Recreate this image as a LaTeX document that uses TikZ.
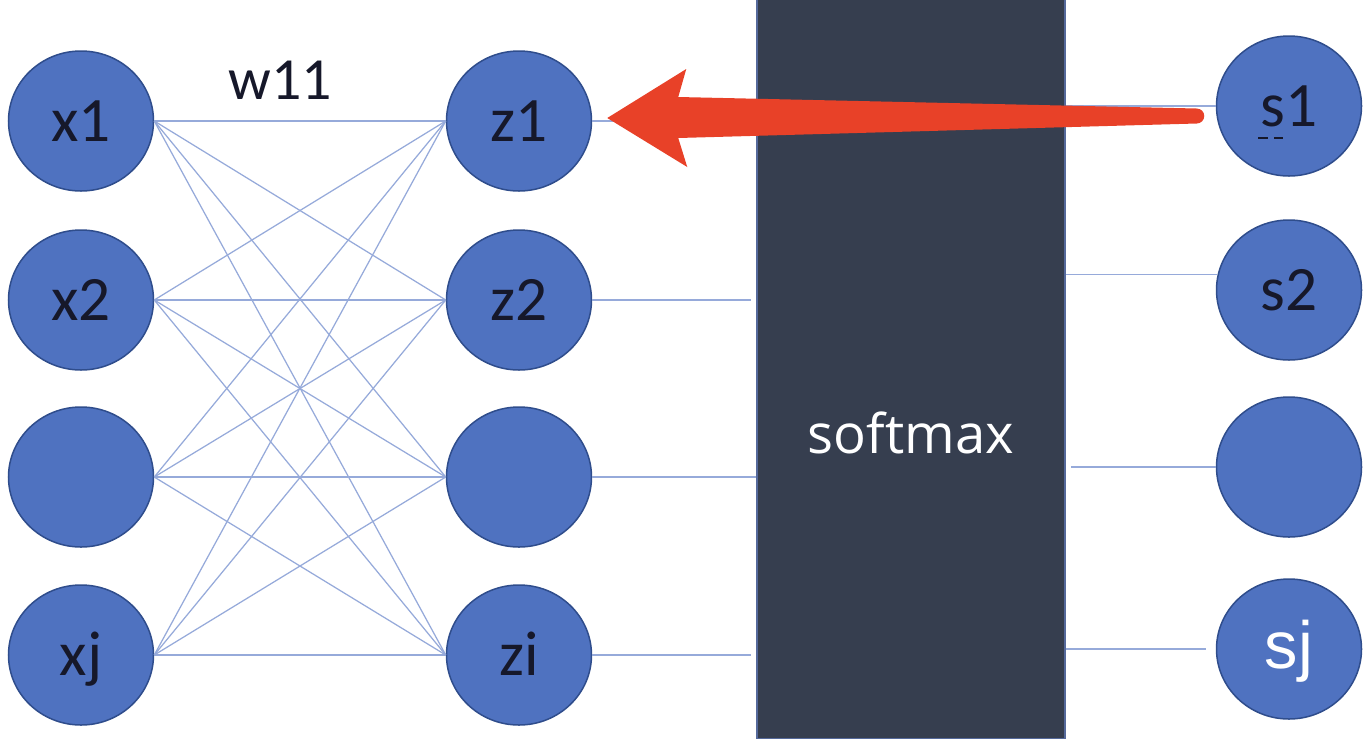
\documentclass[tikz,border=0pt]{standalone}
\usepackage{fontspec}
\setmainfont{Carlito}
\newfontfamily\blockfont{Open Sans}
\newfontfamily\arialfont{Liberation Sans}
\usepackage{tikz}
\usetikzlibrary{shapes.geometric,calc}

\definecolor{nodeblue}{RGB}{79,114,192}
\definecolor{nodeedge}{RGB}{47,77,140}
\definecolor{wireblue}{RGB}{150,170,218}
\definecolor{slate}{RGB}{54,62,79}
\definecolor{slateedge}{RGB}{85,105,155}
\definecolor{arrowred}{RGB}{232,65,40}
\definecolor{labelink}{RGB}{22,24,42}

\begin{document}
\begin{tikzpicture}[x=0.2mm, y=-0.2mm,
	neuron/.style={ellipse, draw=nodeedge, fill=nodeblue, line width=0.3mm, inner sep=0pt,
		minimum width=29mm, minimum height=28mm, text=labelink,
		font=\fontsize{36}{40}\selectfont, text height=8mm, text depth=0pt},
	wire/.style={draw=wireblue, line width=0.25mm}]
	\useasboundingbox (0,0) rectangle (1370,738);

	% softmax block
	\node[rectangle, draw=slateedge, fill=slate, line width=0.3mm, inner sep=0pt,
		minimum width=61.6mm, minimum height=148mm] (sm) at (911,369) {};
	\node[text=white, font=\blockfont\fontsize{31}{36}\selectfont] (smtext) at (911,433) {softmax};

	% input layer
	\node[neuron] (x1) at (81,121) {x1};
	\node[neuron] (x2) at (81,300) {x2};
	\node[neuron] (x3) at (81,477) {};
	\node[neuron] (x4) at (81,655) {xj};

	% hidden layer
	\node[neuron] (z1) at (519,121) {z1};
	\node[neuron] (z2) at (519,300) {z2};
	\node[neuron] (z3) at (519,477) {};
	\node[neuron] (z4) at (519,655) {zi};

	% outputs
	\node[neuron] (s1) at (1289,106) {s1};
	\node[neuron] (s2) at (1289,290) {s2};
	\node[neuron] (s3) at (1289,467) {};
	\node[neuron, text=white, font=\arialfont\fontsize{38}{42}\selectfont, text height=7.6mm] (s4) at (1289,649) {sj};
	\draw[labelink, line width=0.5mm, dash pattern=on 2mm off 1.2mm] ($(s1.center)+(-31,32)$) -- ++(25,0);

	% weights
	\foreach \i in {1,...,4}
		\foreach \j in {1,...,4}
			\draw[wire] (x\i.east) -- (z\j.west);
	\node[text=labelink, font=\fontsize{34}{38}\selectfont] (w11) at (280,80) {w11};

	\draw[wire] (z1.east) -- (z1.east -| sm.west);
	\draw[wire, shorten >=1mm] (z2.east) -- (z2.east -| sm.west);
	\draw[wire] (z3.east) -- (z3.east -| sm.west);
	\draw[wire, shorten >=1mm] (z4.east) -- (z4.east -| sm.west);

	\draw[wire] (sm.east |- s1.west) -- (s1.west);
	\draw[wire] (sm.east |- s2.168) -- (s2.168);
	\draw[wire, shorten <=1mm] (sm.east |- s3.west) -- (s3.west);
	\draw[wire, shorten >=2mm] (sm.east |- s4.west) -- (s4.west);

	% back arrow s1 -> z1
	\coordinate (tip) at ($(z1.east)+(15,-3)$);
	\coordinate (tail) at ($(s1.west)+(-12,10)$);
	\fill[arrowred] (tip) -- ++(79,-49) -- ++(-8,28) -- ($(tail)+(-7,-7.5)$)
		arc[start angle=-90, end angle=90, radius=7.5]
		-- ($(tip)+(71,20)$) -- ++(9,29) -- cycle;
\end{tikzpicture}
\end{document}
